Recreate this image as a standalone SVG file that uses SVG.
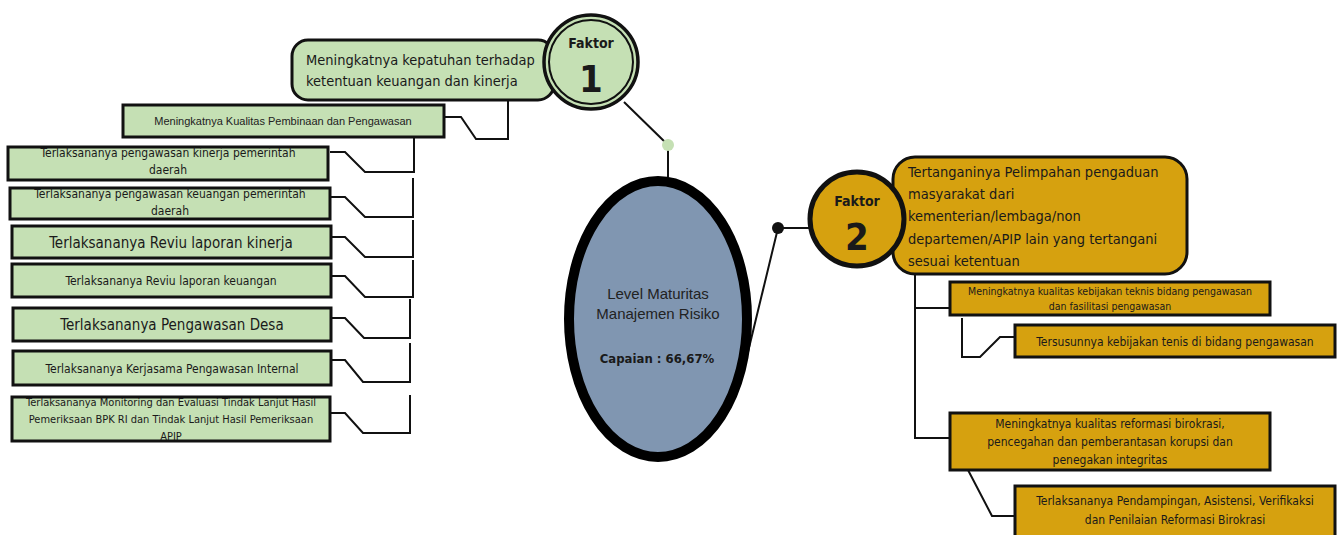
<svg xmlns="http://www.w3.org/2000/svg" width="1341" height="535" viewBox="0 0 1341 535">
<style>
.t{font-family:"Liberation Sans Narrow","DejaVu Sans Condensed","Noto Sans",sans-serif;fill:#1a1a1a;}
.a{font-family:"Liberation Sans",Arial,sans-serif;fill:#222;}
.g{fill:#c5e0b4;stroke:#111;stroke-width:3;}
.o{fill:#d6a10f;stroke:#111;stroke-width:3;}
.c{fill:none;stroke:#111;stroke-width:2;}
.m{text-anchor:middle;}
</style>
<rect width="1341" height="535" fill="#fff"/>
<g id="connectors">
<path class="c" d="M624,102 L668,145 V177"/>
<path class="c" d="M748,352 L778,228 H810"/>
<path class="c" d="M508,100 V139 H476 L461,117 H444"/>
<path class="c" d="M414,136 V172 H365 L345,152 H330"/>
<path class="c" d="M413,178 V217 H365 L345,197 H330"/>
<path class="c" d="M413,220 V257 H365 L345,237 H331"/>
<path class="c" d="M413,260 V297 H365 L345,276 H331"/>
<path class="c" d="M410,299 V338 H364 L345,318 H330"/>
<path class="c" d="M410,343 V382 H363 L345,360 H330"/>
<path class="c" d="M410,395 V433 H363 L345,413 H330"/>
<path class="c" d="M915,265 V438 H950"/>
<path class="c" d="M915,308 H950"/>
<path class="c" d="M962,318 V357 H980 L1000,337 H1015"/>
<path class="c" d="M968,470 L992,516 H1015"/>
<circle cx="668" cy="145" r="6" fill="#c5e0b4"/>
<circle cx="778" cy="228" r="6" fill="#111"/>
</g>
<g id="center">
<ellipse cx="658" cy="319" rx="89" ry="138" fill="#8096b1" stroke="#000" stroke-width="10"/>
<text class="a m" x="658" y="299" font-size="15">Level Maturitas</text>
<text class="a m" x="658" y="319" font-size="15">Manajemen Risiko</text>
<text class="t m" x="657" y="363" font-size="13" font-weight="bold">Capaian : 66,67%</text>
</g>
<g id="faktor1-box">
<rect class="g" x="292" y="40" width="262" height="60" rx="16"/>
<text class="t" x="306" y="65" font-size="14.5">Meningkatnya kepatuhan terhadap</text>
<text class="t" x="306" y="86" font-size="14.5">ketentuan keuangan dan kinerja</text>
</g>
<g id="faktor1">
<circle cx="591" cy="62" r="47" fill="#c5e0b4" stroke="#111" stroke-width="3.5"/>
<circle cx="591" cy="62" r="42" fill="none" stroke="#111" stroke-width="2"/>
<text class="t m" x="591" y="48" font-size="14" font-weight="bold">Faktor</text>
<text class="t m" x="591" y="92" font-size="38" font-weight="bold">1</text>
</g>
<g id="l0">
<rect class="g" x="123" y="105" width="321" height="32"/>
<text class="a m" x="283" y="125" font-size="11">Meningkatnya Kualitas Pembinaan dan Pengawasan</text>
</g>
<g id="l1">
<rect class="g" x="8" y="147" width="320" height="33"/>
<text class="t m" x="168" y="157" font-size="12">Terlaksananya pengawasan kinerja pemerintah</text>
<text class="t m" x="168" y="174" font-size="12">daerah</text>
</g>
<g id="l2">
<rect class="g" x="10" y="188" width="320" height="31"/>
<text class="t m" x="170" y="198" font-size="12">Terlaksananya pengawasan keuangan pemerintah</text>
<text class="t m" x="170" y="215" font-size="12">daerah</text>
</g>
<g id="l3">
<rect class="g" x="12" y="226" width="319" height="32"/>
<text class="t m" x="171" y="248" font-size="15">Terlaksananya Reviu laporan kinerja</text>
</g>
<g id="l4">
<rect class="g" x="12" y="264" width="319" height="33"/>
<text class="t m" x="171" y="285" font-size="12">Terlaksananya Reviu laporan keuangan</text>
</g>
<g id="l5">
<rect class="g" x="13" y="308" width="318" height="33"/>
<text class="t m" x="172" y="330" font-size="15">Terlaksananya Pengawasan Desa</text>
</g>
<g id="l6">
<rect class="g" x="13" y="351" width="318" height="34"/>
<text class="t m" x="172" y="373" font-size="12">Terlaksananya Kerjasama Pengawasan Internal</text>
</g>
<g id="l7">
<rect class="g" x="12" y="397" width="318" height="44"/>
<text class="t m" x="171" y="406" font-size="11">Terlaksananya Monitoring dan Evaluasi Tindak Lanjut Hasil</text>
<text class="t m" x="171" y="423" font-size="11">Pemeriksaan BPK RI dan Tindak Lanjut Hasil Pemeriksaan</text>
<text class="t m" x="171" y="440" font-size="11">APIP</text>
</g>
<g id="faktor2-box">
<rect class="o" x="893" y="157" width="294" height="117" rx="22"/>
<text class="t" x="908" y="177" font-size="14.5">Tertanganinya Pelimpahan pengaduan</text>
<text class="t" x="908" y="199" font-size="14.5">masyarakat dari</text>
<text class="t" x="908" y="221" font-size="14.5">kementerian/lembaga/non</text>
<text class="t" x="908" y="244" font-size="14.5">departemen/APIP lain yang tertangani</text>
<text class="t" x="908" y="266" font-size="14.5">sesuai ketentuan</text>
</g>
<g id="faktor2">
<circle cx="857" cy="219" r="47" fill="#d6a10f" stroke="#111" stroke-width="5"/>
<text class="t m" x="857" y="206" font-size="14" font-weight="bold">Faktor</text>
<text class="t m" x="857" y="250" font-size="38" font-weight="bold">2</text>
</g>
<g id="r1">
<rect class="o" x="950" y="282" width="320" height="33"/>
<text class="t m" x="1110" y="295" font-size="10.5">Meningkatnya kualitas kebijakan teknis bidang pengawasan</text>
<text class="t m" x="1110" y="310" font-size="10.5">dan fasilitasi pengawasan</text>
</g>
<g id="r2">
<rect class="o" x="1015" y="325" width="320" height="32"/>
<text class="t m" x="1175" y="346" font-size="12">Tersusunnya kebijakan tenis di bidang pengawasan</text>
</g>
<g id="r3">
<rect class="o" x="950" y="413" width="320" height="57"/>
<text class="t m" x="1110" y="428" font-size="12">Meningkatnya kualitas reformasi birokrasi,</text>
<text class="t m" x="1110" y="446" font-size="12">pencegahan dan pemberantasan korupsi dan</text>
<text class="t m" x="1110" y="464" font-size="12">penegakan integritas</text>
</g>
<g id="r4">
<rect class="o" x="1015" y="486" width="320" height="52"/>
<text class="t m" x="1175" y="505" font-size="12">Terlaksananya  Pendampingan, Asistensi, Verifikaksi</text>
<text class="t m" x="1175" y="524" font-size="12">dan Penilaian Reformasi Birokrasi</text>
</g>
</svg>
